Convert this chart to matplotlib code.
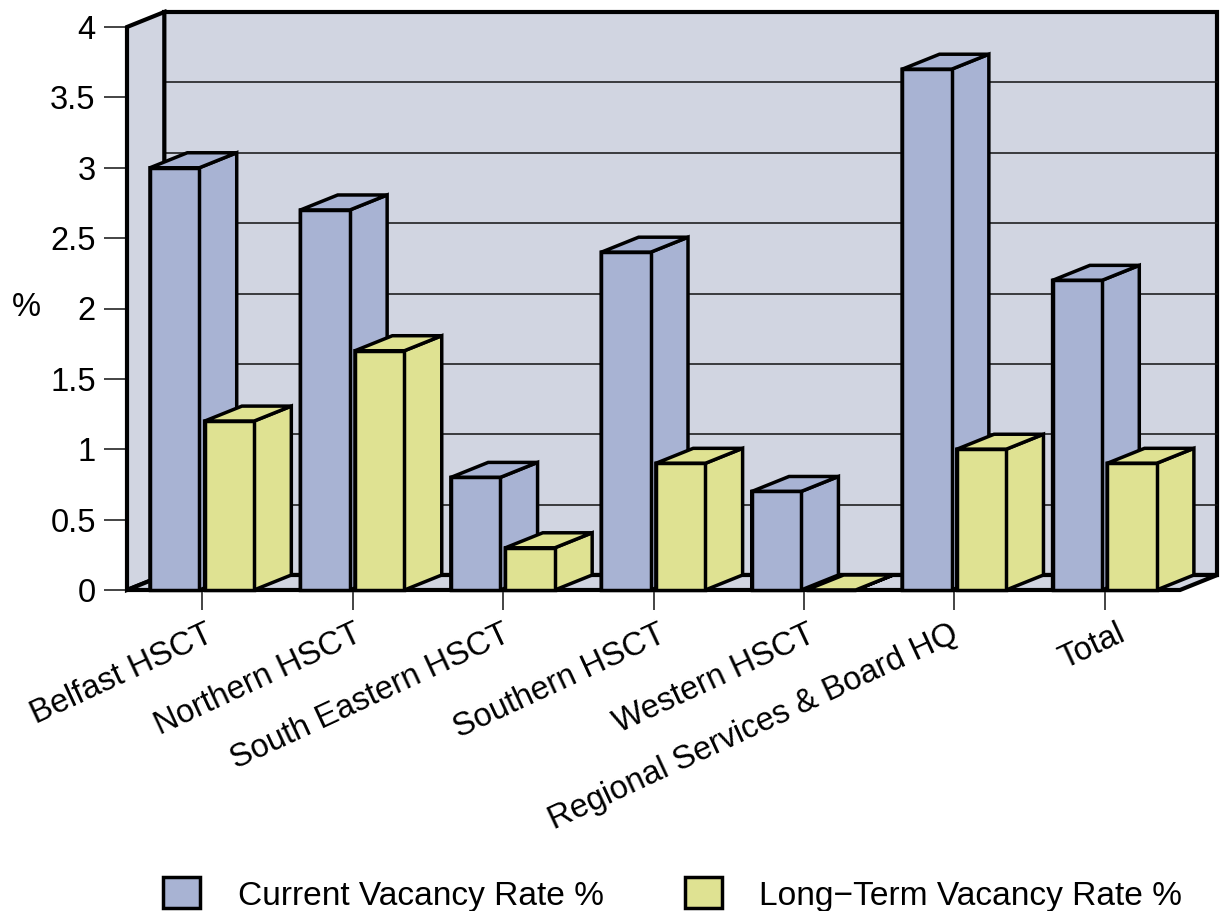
import matplotlib
matplotlib.use("Agg")
import matplotlib.pyplot as plt
from matplotlib.patches import Polygon, Rectangle
from matplotlib.transforms import ScaledTranslation

plt.rcParams['font.family'] = ['Liberation Sans', 'DejaVu Sans']

categories = ["Belfast HSCT", "Northern HSCT", "South Eastern HSCT", "Southern HSCT",
              "Western HSCT", "Regional Services & Board HQ", "Total"]
current_rate = [3.0, 2.7, 0.8, 2.4, 0.7, 3.7, 2.2]
long_term_rate = [1.2, 1.7, 0.3, 0.9, 0.0, 1.0, 0.9]
y_ticks = [0, 0.5, 1, 1.5, 2, 2.5, 3, 3.5, 4]
y_tick_labels = ["0", "0.5", "1", "1.5", "2", "2.5", "3", "3.5", "4"]

BLUE = '#a8b3d3'
YELLOW = '#dfe292'
WALL = '#d1d5e1'
EDGE = '#000000'

W, H = 1220, 911
fig = plt.figure(figsize=(W / 100, H / 100), dpi=100)
ax = fig.add_axes([127 / W, 1 - 590 / H, 1053 / W, 563 / H])
ax.set_xlim(0, 7)
ax.set_ylim(0, 4)

# depth offset of the fake 3d box, in data units
dx = 37.3 / (1053 / 7)
dy = 15 / (563 / 4)
bar_w = 49.4 / (1053 / 7)
LW = 2.5
WALL_LW = 3.0


def poly(points, color, z=1, lw=LW):
    ax.add_patch(Polygon(points, closed=True, facecolor=color, edgecolor=EDGE,
                         linewidth=lw, joinstyle='miter', clip_on=False, zorder=z))


def bar3d(x, h, color, z):
    poly([(x, 0), (x + bar_w, 0), (x + bar_w + dx, dy), (x + bar_w + dx, h + dy), (x + bar_w, h), (x, h)], color, z)
    poly([(x, h), (x + bar_w, h), (x + bar_w + dx, h + dy), (x + dx, h + dy)], color, z)
    poly([(x, 0), (x + bar_w, 0), (x + bar_w, h), (x, h)], color, z)


# walls and floor
poly([(dx, dy), (7 + dx, dy), (7 + dx, 4 + dy), (dx, 4 + dy)], WALL, 1, WALL_LW)
poly([(0, 0), (dx, dy), (dx, 4 + dy), (0, 4)], WALL, 2, WALL_LW)
poly([(0, 0), (7, 0), (7 + dx, dy), (dx, dy)], WALL, 2, WALL_LW)

for v in y_ticks[1:-1]:
    ax.plot([dx, 7 + dx], [v + dy, v + dy], color='#111111', lw=1.1, clip_on=False, zorder=1.5)

z = 3
for i in range(len(categories)):
    bar3d(i + 0.153, current_rate[i], BLUE, z)
    bar3d(i + 0.516, long_term_rate[i], YELLOW, z + 1)
    z += 2

for s in ax.spines.values():
    s.set_visible(False)
ax.patch.set_visible(False)

ax.set_yticks(y_ticks)
ax.set_yticklabels(y_tick_labels, fontsize=23.5)
ax.tick_params(axis='y', length=16.5, width=1.1, pad=6, color='#111111')
ax.set_xticks([i + 0.5 for i in range(7)])
ax.set_xticklabels(categories, fontsize=23.5, rotation=25, ha='right', va='top', rotation_mode='anchor')
ax.tick_params(axis='x', length=14.5, width=1.1, pad=6, color='#111111')
# the labels do not sit at the same distance from their ticks, nudge each one (pixels)
label_shift = [3, 1, -1, 4, 3, -4, 12]
for lab, px in zip(ax.get_xticklabels(), label_shift):
    lab.set_transform(lab.get_transform() + ScaledTranslation(px / 100, 0, fig.dpi_scale_trans))
ax.set_ylabel('%', rotation=0, fontsize=23.5, va='center', ha='center')
ax.yaxis.set_label_coords((26 - 127) / 1053, (590 - 308) / 563)

# legend, placed by hand
legend_items = [("Current Vacancy Rate %", BLUE, 163, 238), ("Long\u2212Term Vacancy Rate %", YELLOW, 685, 759)]
for label, color, bx, tx in legend_items:
    fig.add_artist(Rectangle((bx / W, 1 - 908 / H), 37 / W, 31 / H, transform=fig.transFigure,
                             facecolor=color, edgecolor=EDGE, linewidth=2.5))
    fig.text(tx / W, 1 - 896 / H, label, fontsize=24.15, va='center', ha='left')

fig.savefig('out.png', dpi=100)
